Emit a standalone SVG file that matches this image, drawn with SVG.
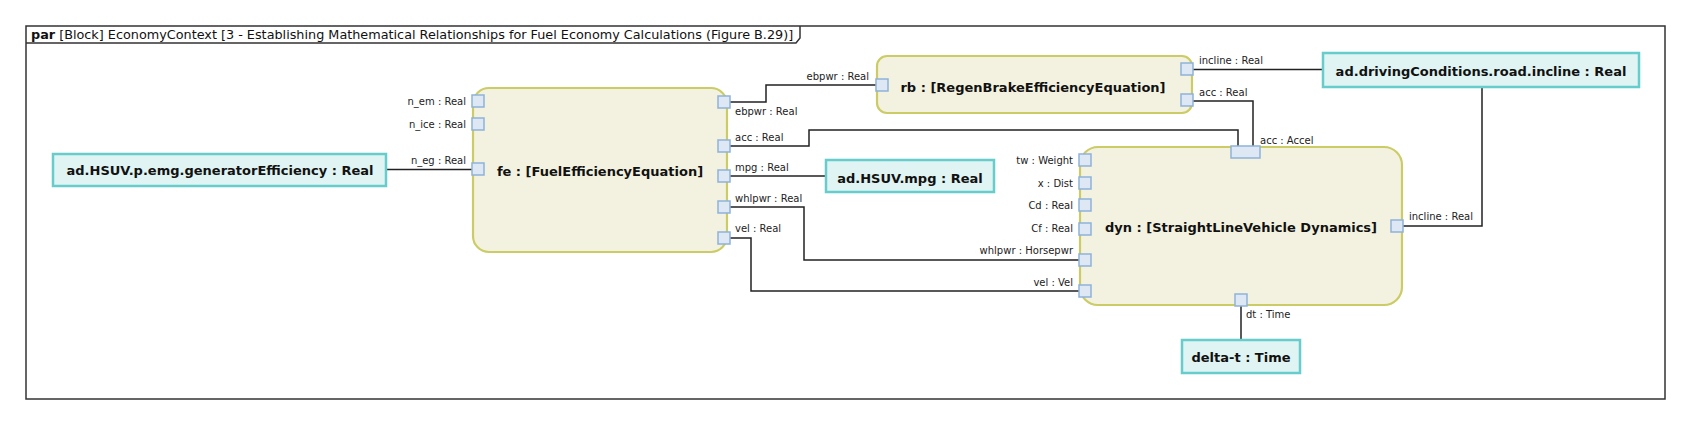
<svg xmlns="http://www.w3.org/2000/svg" width="1691" height="426" viewBox="0 0 1691 426">
<style>
.frame{fill:#ffffff;stroke:#333333;stroke-width:1.5}
.tab{fill:none;stroke:#333333;stroke-width:1.5}
.title{font-family:"DejaVu Sans",sans-serif;font-size:12.8px;fill:#111111}
.blk{fill:#f3f2e0;stroke:#cccc66;stroke-width:2.2}
.val{fill:#e0f4f3;stroke:#66cccc;stroke-width:2.5}
.port{fill:#dde8f4;stroke:#8fb2d8;stroke-width:1.5}
.name{font-family:"DejaVu Sans",sans-serif;font-size:13px;font-weight:bold;fill:#111111;text-anchor:middle}
.lbl{font-family:"DejaVu Sans",sans-serif;font-size:10px;fill:#222222}
.r{text-anchor:end}
.wire{fill:none;stroke:#222222;stroke-width:1.5}
</style>
<rect class="frame" x="26" y="26" width="1639" height="373"/>
<path class="tab" d="M26 43 H796 L800 38 V26"/>
<text class="title" x="31" y="39"><tspan font-weight="bold">par</tspan> [Block] EconomyContext [3 - Establishing Mathematical Relationships for Fuel Economy Calculations (Figure B.29)]</text>

<g id="connectors">
<path class="wire" d="M386 169.5 H472"/>
<path class="wire" d="M730 102 H766 V85 H876"/>
<path class="wire" d="M730 146 H809 V130 H1238 V146"/>
<path class="wire" d="M730 176 H826"/>
<path class="wire" d="M730 207 H804 V260 H1079"/>
<path class="wire" d="M730 238 H751 V291 H1079"/>
<path class="wire" d="M1193 69.5 H1323"/>
<path class="wire" d="M1193 101 H1253 V146"/>
<path class="wire" d="M1403 226 H1482 V87"/>
<path class="wire" d="M1241 306 V340"/>
</g>

<g id="emg">
<rect class="val" x="53" y="154" width="333" height="32"/>
<text class="name" x="220" y="175">ad.HSUV.p.emg.generatorEfficiency : Real</text>
</g>

<g id="fe">
<rect class="blk" x="473" y="88" width="254" height="164" rx="16"/>
<text class="name" x="600" y="176">fe : [FuelEfficiencyEquation]</text>
<rect class="port" x="472" y="95" width="12" height="12"/>
<rect class="port" x="472" y="118" width="12" height="12"/>
<rect class="port" x="472" y="163" width="12" height="12"/>
<rect class="port" x="718" y="96" width="12" height="12"/>
<rect class="port" x="718" y="140" width="12" height="12"/>
<rect class="port" x="718" y="170" width="12" height="12"/>
<rect class="port" x="718" y="201" width="12" height="12"/>
<rect class="port" x="718" y="232" width="12" height="12"/>
<text class="lbl r" x="466" y="105">n_em : Real</text>
<text class="lbl r" x="466" y="128">n_ice : Real</text>
<text class="lbl r" x="466" y="164">n_eg : Real</text>
<text class="lbl" x="735" y="115">ebpwr : Real</text>
<text class="lbl" x="735" y="141">acc : Real</text>
<text class="lbl" x="735" y="171">mpg : Real</text>
<text class="lbl" x="735" y="202">whlpwr : Real</text>
<text class="lbl" x="735" y="232">vel : Real</text>
</g>

<g id="mpg">
<rect class="val" x="826" y="160" width="168" height="32"/>
<text class="name" x="910" y="183">ad.HSUV.mpg : Real</text>
</g>

<g id="rb">
<rect class="blk" x="877" y="56" width="315" height="57" rx="10"/>
<text class="name" x="1033" y="92">rb : [RegenBrakeEfficiencyEquation]</text>
<rect class="port" x="876" y="79" width="12" height="12"/>
<rect class="port" x="1181" y="63" width="12" height="12"/>
<rect class="port" x="1181" y="94" width="12" height="12"/>
<text class="lbl r" x="869" y="80">ebpwr : Real</text>
<text class="lbl" x="1199" y="64">incline : Real</text>
<text class="lbl" x="1199" y="96">acc : Real</text>
</g>

<g id="incline">
<rect class="val" x="1323" y="53" width="316" height="34"/>
<text class="name" x="1481" y="76">ad.drivingConditions.road.incline : Real</text>
</g>

<g id="dyn">
<rect class="blk" x="1080" y="147" width="322" height="158" rx="18"/>
<text class="name" x="1241" y="232">dyn : [StraightLineVehicle Dynamics]</text>
<rect class="port" x="1079" y="154" width="12" height="12"/>
<rect class="port" x="1079" y="177" width="12" height="12"/>
<rect class="port" x="1079" y="199" width="12" height="12"/>
<rect class="port" x="1079" y="223" width="12" height="12"/>
<rect class="port" x="1079" y="254" width="12" height="12"/>
<rect class="port" x="1079" y="285" width="12" height="12"/>
<rect class="port" x="1231" y="146" width="29" height="12"/>
<rect class="port" x="1391" y="220" width="12" height="12"/>
<rect class="port" x="1235" y="294" width="12" height="12"/>
<text class="lbl r" x="1073" y="164">tw : Weight</text>
<text class="lbl r" x="1073" y="187">x : Dist</text>
<text class="lbl r" x="1073" y="209">Cd : Real</text>
<text class="lbl r" x="1073" y="232">Cf : Real</text>
<text class="lbl r" x="1073" y="254">whlpwr : Horsepwr</text>
<text class="lbl r" x="1073" y="286">vel : Vel</text>
<text class="lbl" x="1260" y="144">acc : Accel</text>
<text class="lbl" x="1409" y="220">incline : Real</text>
<text class="lbl" x="1246" y="318">dt : Time</text>
</g>

<g id="deltat">
<rect class="val" x="1182" y="340" width="118" height="33"/>
<text class="name" x="1241" y="362">delta-t : Time</text>
</g>
</svg>
